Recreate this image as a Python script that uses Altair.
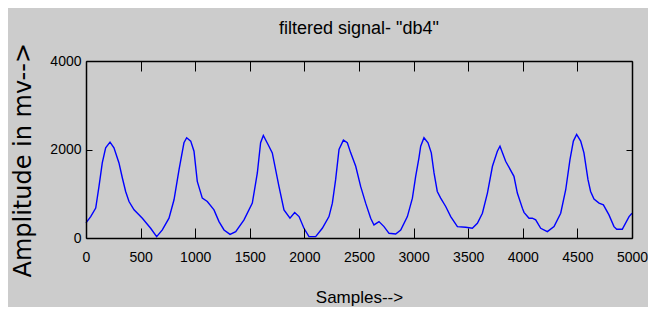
import altair as alt
import pandas as pd

# ---- data ----
samples = [0, 43, 89, 119, 149, 180, 220, 256, 302, 333, 363, 394, 440, 516, 592, 647,
           699, 760, 806, 852, 897, 922, 959, 989, 1019, 1065, 1111, 1172, 1218, 1264,
           1319, 1371, 1447, 1523, 1569, 1599, 1624, 1667, 1706, 1767, 1813, 1868, 1911,
           1951, 1996, 2042, 2103, 2164, 2225, 2256, 2286, 2317, 2357, 2393, 2424, 2470,
           2515, 2561, 2607, 2637, 2683, 2729, 2775, 2836, 2882, 2943, 2989, 3019, 3049,
           3065, 3095, 3132, 3162, 3187, 3217, 3248, 3294, 3340, 3401, 3477, 3538, 3584,
           3630, 3676, 3722, 3767, 3791, 3843, 3919, 3950, 3996, 4011, 4057, 4087, 4118,
           4164, 4225, 4286, 4347, 4393, 4432, 4463, 4493, 4530, 4560, 4597, 4621, 4652,
           4698, 4738, 4789, 4835, 4860, 4911, 4973, 5000]
amplitude = [340, 484, 675, 1166, 1697, 2039, 2166, 2039, 1697, 1356, 1052, 825, 636, 447, 220, 30,
             182, 447, 864, 1545, 2152, 2266, 2190, 1962, 1280, 901, 825, 636, 371, 182,
             83, 144, 409, 788, 1470, 2152, 2318, 2114, 1924, 1166, 636, 447, 576,
             484, 220, 30, 30, 220, 484, 788, 1318, 2000, 2212, 2152, 1924, 1621,
             1166, 788, 447, 295, 371, 257, 106, 91, 182, 484, 901, 1394, 1811,
             2075, 2266, 2152, 1924, 1470, 1052, 901, 712, 484, 257, 242, 220, 333,
             560, 1015, 1621, 1962, 2075, 1735, 1394, 1015, 675, 580, 447, 447, 409,
             220, 144, 257, 560, 1091, 1773, 2190, 2341, 2190, 1924, 1318, 1052, 879,
             788, 750, 523, 257, 197, 197, 484, 560]
x_ticks = [0, 500, 1000, 1500, 2000, 2500, 3000, 3500, 4000, 4500, 5000]
y_ticks = [0, 2000, 4000]
title_text = 'filtered signal- "db4"'
x_title = "Samples-->"
y_title = "Amplitude in mv-->"

df = pd.DataFrame({"sample": samples, "amp": amplitude})

W, H = 546, 177
FONT = "Liberation Sans"

xs = alt.Scale(domain=[0, 5000], nice=False, zero=False)
ys = alt.Scale(domain=[0, 4000], nice=False, zero=False)

line = alt.Chart(df).mark_line(color="#0000ff", strokeWidth=1.4).encode(
    x=alt.X("sample:Q", scale=xs, axis=alt.Axis(
        orient="bottom", values=x_ticks, format="d", ticks=False, tickSize=0, domain=False,
        grid=False, labelFont=FONT, labelFontSize=14, labelColor="black", labelPadding=12,
        labelBaseline="top", labelFlush=False, labelOverlap=False, zindex=1,
        title=x_title, titleFont=FONT, titleFontSize=17, titleFontWeight="normal",
        titleColor="black", titleX=W / 2, titleY=64, titleBaseline="alphabetic",
        titleAlign="center", titleAnchor="middle")),
    y=alt.Y("amp:Q", scale=ys, axis=alt.Axis(
        orient="left", values=y_ticks, format="d", ticks=False, tickSize=0, domain=False,
        grid=False, labelFont=FONT, labelFontSize=14, labelColor="black", labelPadding=5,
        labelFlush=False, labelOverlap=False, zindex=1,
        title=y_title, titleFont="DejaVu Sans", titleFontSize=24, titleFontWeight="normal",
        titleColor="black", titleAngle=270, titleX=-56, titleY=216,
        titleAlign="left", titleBaseline="alphabetic")),
)

tick_style = dict(labels=False, title=None, grid=False, domain=True, domainColor="black",
                  domainWidth=1.5, tickColor="black", tickWidth=1, zindex=1)

ticks_a = alt.Chart(df).mark_line(opacity=0).encode(
    x=alt.X("sample:Q", scale=xs, axis=alt.Axis(orient="top", offset=-H, values=x_ticks,
                                                 tickSize=10, **tick_style)),
    y=alt.Y("amp:Q", scale=ys, axis=alt.Axis(orient="right", offset=-W, values=y_ticks,
                                              tickSize=6, **tick_style)),
)
ticks_b = alt.Chart(df).mark_line(opacity=0).encode(
    x=alt.X("sample:Q", scale=xs, axis=alt.Axis(orient="bottom", offset=-H, values=x_ticks,
                                                 tickSize=10, **tick_style)),
    y=alt.Y("amp:Q", scale=ys, axis=alt.Axis(orient="left", offset=-W, values=y_ticks,
                                              tickSize=6, **tick_style)),
)

title_mark = alt.Chart(alt.Data(values=[{"t": title_text}])).mark_text(
    font=FONT, fontSize=18, color="black", align="center", baseline="alphabetic"
).encode(text="t:N", x=alt.value(W / 2), y=alt.value(-27))

chart = alt.layer(line, ticks_a, ticks_b, title_mark).resolve_axis(
    x="independent", y="independent"
).properties(
    width=W, height=H,
    autosize=alt.AutoSizeParams(type="none"),
    padding={"left": 78, "top": 53, "right": 16, "bottom": 69},
).configure_view(strokeWidth=0, fill="white").configure(background="#cccccc")

chart.save("out.html", embed_options={"renderer": "svg", "actions": False})
